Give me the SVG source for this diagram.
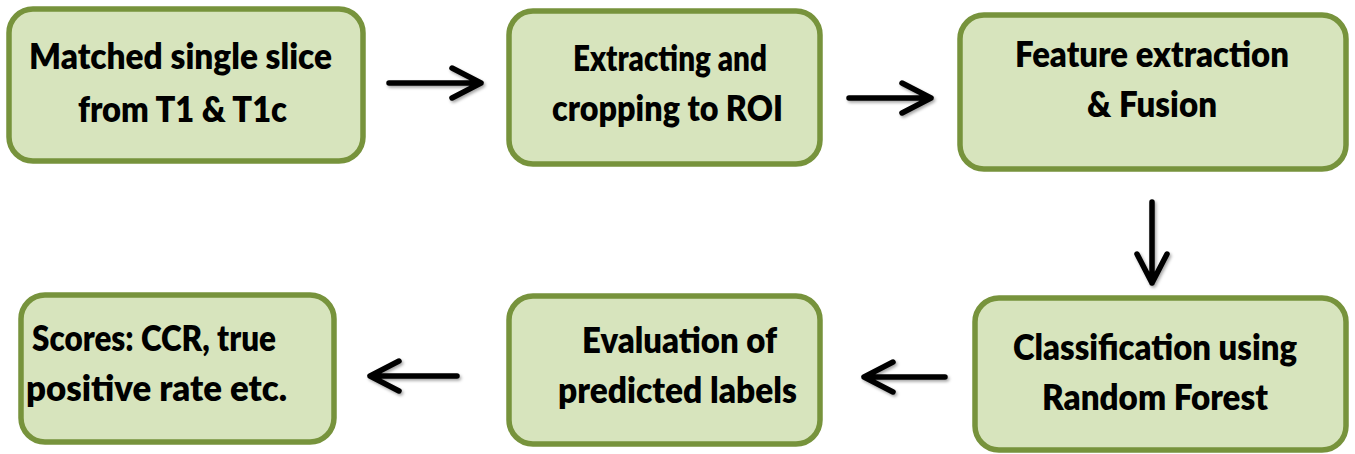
<svg xmlns="http://www.w3.org/2000/svg" width="1355" height="454" viewBox="0 0 1355 454">
  <defs>
    <style>
      .box { fill: #D7E4BD; stroke: #77933C; stroke-width: 5.5; }
      .lbl { font-family: Lato, "Open Sans", "Liberation Sans", sans-serif; font-weight: 800; font-size: 36px; fill: #000; }
      .arr { fill: none; stroke: #000; stroke-width: 5.5; stroke-linecap: round; stroke-linejoin: round; }
    </style>
    <filter id="sh" x="-20%" y="-50%" width="140%" height="200%">
      <feDropShadow dx="1.5" dy="2" stdDeviation="1.5" flood-color="#000" flood-opacity="0.35"/>
    </filter>
  </defs>
  <rect width="1355" height="454" fill="#fff"/>

  <g id="node1">
    <rect class="box" x="9" y="9" width="354" height="152" rx="24"/>
    <text class="lbl" x="29" y="69" textLength="303" lengthAdjust="spacingAndGlyphs">Matched single slice</text>
    <text class="lbl" x="78" y="122" textLength="209" lengthAdjust="spacingAndGlyphs">from T1 &amp; T1c</text>
  </g>
  <g id="node2">
    <rect class="box" x="509" y="11" width="311" height="153" rx="24"/>
    <text class="lbl" x="573" y="71" textLength="194" lengthAdjust="spacingAndGlyphs">Extracting and</text>
    <text class="lbl" x="552" y="121" textLength="231" lengthAdjust="spacingAndGlyphs">cropping to ROI</text>
  </g>
  <g id="node3">
    <rect class="box" x="960" y="15" width="386" height="154" rx="24"/>
    <text class="lbl" x="1015" y="67" textLength="274" lengthAdjust="spacingAndGlyphs">Feature extraction</text>
    <text class="lbl" x="1087" y="117" textLength="130" lengthAdjust="spacingAndGlyphs">&amp; Fusion</text>
  </g>
  <g id="node4">
    <rect class="box" x="975" y="298" width="371" height="152" rx="24"/>
    <text class="lbl" x="1013" y="360" textLength="284" lengthAdjust="spacingAndGlyphs">Classification using</text>
    <text class="lbl" x="1042" y="410" textLength="226" lengthAdjust="spacingAndGlyphs">Random Forest</text>
  </g>
  <g id="node5">
    <rect class="box" x="509" y="296" width="311" height="148" rx="24"/>
    <text class="lbl" x="582" y="353" textLength="195" lengthAdjust="spacingAndGlyphs">Evaluation of</text>
    <text class="lbl" x="558" y="403" textLength="239" lengthAdjust="spacingAndGlyphs">predicted labels</text>
  </g>
  <g id="node6">
    <rect class="box" x="21" y="295" width="313" height="147" rx="24"/>
    <text class="lbl" x="32" y="351" textLength="244" lengthAdjust="spacingAndGlyphs">Scores: CCR, true</text>
    <text class="lbl" x="26" y="401" textLength="261" lengthAdjust="spacingAndGlyphs">positive rate etc.</text>
  </g>

  <g id="connectors" filter="url(#sh)">
    <path class="arr" d="M389 83 H481 M452 68 L481 83 L452 98"/>
    <path class="arr" d="M849 98 H931 M902 83 L931 98 L902 113"/>
    <path class="arr" d="M1152 202 V283 M1137 254 L1152 283 L1167 254"/>
    <path class="arr" d="M945 377 H864 M893 362 L864 377 L893 392"/>
    <path class="arr" d="M457 376 H370 M399 361 L370 376 L399 391"/>
  </g>
</svg>
